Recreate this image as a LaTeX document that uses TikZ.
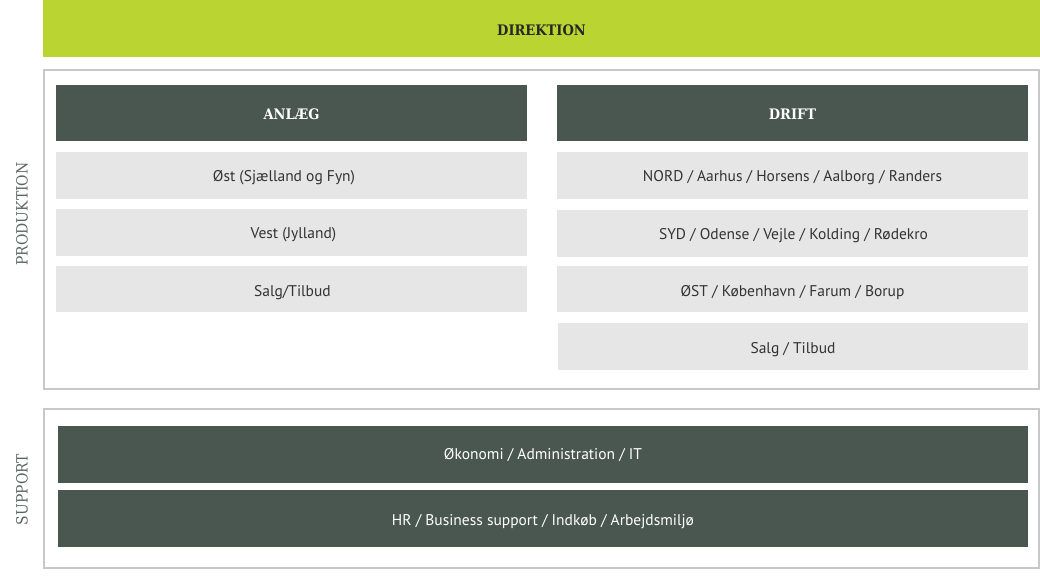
\documentclass[tikz,border=0pt]{standalone}
\usepackage{fontspec}
\setmainfont{PT Sans}
\IfFontExistsTF{DejaVu Serif Condensed}
  {\newfontfamily\slab{DejaVu Serif Condensed}}
  {\newfontfamily\slab{DejaVu Serif}}
\definecolor{lime}{HTML}{BAD532}
\definecolor{darkbox}{HTML}{4A5750}
\definecolor{lightbox}{HTML}{E6E6E6}
\definecolor{framegray}{HTML}{C8C8C8}
\definecolor{labelgray}{HTML}{5A6660}
\definecolor{bodytext}{HTML}{333333}
\definecolor{titletext}{HTML}{262626}
\tikzset{
  px/.style={x=1pt,y=-1pt},
  frame/.style={draw=framegray,line width=1.2pt,fill=white},
  headbox/.style={text=white,yshift=-1pt,font=\slab\bfseries\fontsize{14.5}{16}\selectfont},
  rowbox/.style={text=bodytext,yshift=-2pt,font=\fontsize{15.5}{18}\selectfont},
  supbox/.style={text=white,yshift=-1.5pt,font=\fontsize{15.5}{18}\selectfont},
  sidelabel/.style={rotate=90,text=labelgray,font=\slab\fontsize{15.5}{17}\selectfont},
}
\begin{document}
\begin{tikzpicture}[px]
\useasboundingbox (0,0) rectangle (1040,586);
% Direktion
\path[fill=lime] (43,0) rectangle (1040,57);
\node[text=titletext,yshift=-1.5pt,font=\slab\bfseries\fontsize{14.5}{16}\selectfont] (dir) at (541.5,28.5) {DIREKTION};
% Produktion frame
\draw[frame] (44,70) rectangle (1039,389);
\node[sidelabel] (prod) at (22,214) {PRODUKTION};
% Headers
\path[fill=darkbox] (56,85) rectangle (527,141);
\node[headbox] (anlaeg) at (291.5,113) {ANLÆG};
\path[fill=darkbox] (557,85) rectangle (1028,141);
\node[headbox] (drift) at (792.5,113) {DRIFT};
% Left rows
\path[fill=lightbox] (56,152) rectangle (527,199);
\node[rowbox] (a1) at (284,175.5) {Øst (Sjælland og Fyn)};
\path[fill=lightbox] (56,209) rectangle (527,256);
\node[rowbox] (a2) at (293.5,233) {Vest (Jylland)};
\path[fill=lightbox] (56,266) rectangle (527,312);
\node[rowbox] (a3) at (292.5,290.5) {Salg/Tilbud};
% Right rows
\path[fill=lightbox] (557,152) rectangle (1028,199);
\node[rowbox] (d1) at (792.5,175.5) {NORD / Aarhus / Horsens / Aalborg / Randers};
\path[fill=lightbox] (557,210) rectangle (1028,257);
\node[rowbox] (d2) at (793.5,233.5) {SYD / Odense / Vejle / Kolding / Rødekro};
\path[fill=lightbox] (557,266) rectangle (1028,312);
\node[rowbox] (d3) at (792.5,290.5) {ØST / København / Farum / Borup};
\path[fill=lightbox] (558,323) rectangle (1028,370);
\node[rowbox] (d4) at (793,347.5) {Salg / Tilbud};
% Support frame
\draw[frame] (44,409) rectangle (1039,568);
\node[sidelabel] (sup) at (22,489.5) {SUPPORT};
\path[fill=darkbox] (58,426) rectangle (1028,483);
\node[supbox] (s1) at (543,454) {Økonomi / Administration / IT};
\path[fill=darkbox] (58,490) rectangle (1028,547);
\node[supbox] (s2) at (543,520.5) {HR / Business support / Indkøb / Arbejdsmiljø};
\end{tikzpicture}
\end{document}
